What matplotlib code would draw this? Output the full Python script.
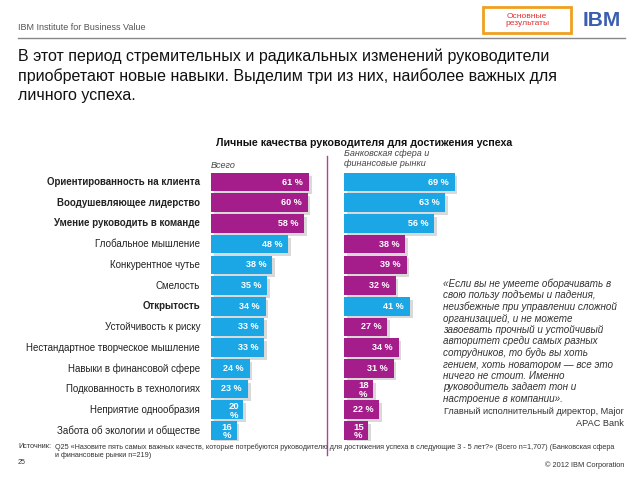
import numpy as np
import matplotlib.pyplot as plt
from matplotlib.patches import Rectangle
from matplotlib.lines import Line2D

plt.rcParams["font.family"] = ["Liberation Sans", "DejaVu Sans"]

# data
qualities = ["Ориентированность на клиента", "Воодушевляющее лидерство",
             "Умение руководить в команде", "Глобальное мышление",
             "Конкурентное чутье", "Смелость", "Открытость",
             "Устойчивость к риску", "Нестандартное творческое мышление",
             "Навыки в финансовой сфере", "Подкованность в технологиях",
             "Неприятие однообразия", "Забота об экологии и обществе"]
bold_rows = [0, 1, 2, 6]
total = [61, 60, 58, 48, 38, 35, 34, 33, 33, 24, 23, 20, 16]
banking = [69, 63, 56, 38, 39, 32, 41, 27, 34, 31, 18, 22, 15]

MAG = "#a51c8b"
BLUE = "#1ba7e6"
total_colors = [MAG] * 3 + [BLUE] * 10
bank_colors = [BLUE] * 3 + [MAG] * 3 + [BLUE] + [MAG] * 6

quote = ["«Если вы не умеете оборачивать в",
         "свою пользу подъемы и падения,",
         "неизбежные при управлении сложной",
         "организацией, и не можете",
         "завоевать прочный и устойчивый",
         "авторитет среди самых разных",
         "сотрудников, то будь вы хоть",
         "гением, хоть новатором — все это",
         "ничего не стоит. Именно",
         "руководитель задает тон и",
         "настроение в компании»."]

W, H = 640, 480


def fx(x):
    return x / W


def fy(y):
    return 1 - y / H


fig = plt.figure(figsize=(6.4, 4.8), dpi=100)

# header
fig.text(fx(18), fy(27), "IBM Institute for Business Value", fontsize=6.5,
         color="#555555", va="center")
fig.add_artist(Line2D([fx(18), fx(625)], [fy(38), fy(38)], color="#888888", lw=1))
fig.add_artist(Rectangle((fx(483), fy(33)), fx(88), 26 / H, fill=False,
                         edgecolor="#f0a020", lw=2))
fig.text(fx(527), fy(20), "Основные\nрезультаты", fontsize=6, color="#e03030",
         ha="center", va="center", linespacing=1.1)
fig.text(fx(602), fy(21), "IBM", fontsize=15, fontweight="bold", color="#3a5fb0",
         ha="center", va="center")
for yy in np.arange(13.5, 31, 2.2):
    fig.add_artist(Line2D([fx(578), fx(627)], [fy(yy), fy(yy)], color="white", lw=0.8))

fig.text(fx(18), fy(48), "В этот период стремительных и радикальных изменений руководители\n"
         "приобретают новые навыки. Выделим три из них, наиболее важных для\n"
         "личного успеха.", fontsize=11.5, color="#111111", va="top", linespacing=1.33)

fig.text(fx(364), fy(143), "Личные качества руководителя для достижения успеха",
         fontsize=7.7, fontweight="bold", ha="center", va="center", color="#111111")

# panels
top, bottom = 171.7, 440.7
n = len(qualities)
ypos = np.arange(n)


def panel(x0, values, colors):
    ax = fig.add_axes([fx(x0), fy(bottom), 70 * 1.61 / W, (bottom - top) / H])
    ax.barh(ypos + 0.14, values, height=0.9, left=1.6, color="#bbbbbb",
            alpha=0.55, zorder=1)
    ax.barh(ypos, values, height=0.9, color=colors, zorder=2)
    for i, v in enumerate(values):
        if v <= 20:
            ax.text(v - 6, i + 0.05, f"{v}\n%", color="white", fontsize=6.8,
                    fontweight="bold", ha="center", va="center",
                    linespacing=0.95, zorder=3)
        else:
            ax.text(v - 3.7, i, f"{v} %", color="white", fontsize=6.5,
                    fontweight="bold", ha="right", va="center", zorder=3)
    ax.set_xlim(0, 70)
    ax.set_ylim(n - 0.5, -0.5)
    ax.axis("off")
    return ax


axl = panel(211, total, total_colors)
axr = panel(344, banking, bank_colors)

for i, q in enumerate(qualities):
    axl.text(-6.8, i, q, ha="right", va="center", fontsize=7,
             fontweight="bold" if i in bold_rows else "normal",
             color="#222222", clip_on=False)

fig.text(fx(211), fy(165), "Всего", fontsize=6.5, style="italic",
         color="#444444", va="center")
fig.text(fx(344), fy(149), "Банковская сфера и\nфинансовые рынки", fontsize=6.5,
         style="italic", color="#444444", va="top", linespacing=1.1)

fig.add_artist(Line2D([fx(327), fx(327)], [fy(156), fy(455)], color="#b5408f", lw=1))

# quote
for k, line in enumerate(quote):
    fig.text(fx(443), fy(284 + k * 11.5), line, fontsize=7.1, style="italic",
             color="#333333", va="center")
fig.text(fx(624), fy(411), "Главный исполнительный директор, Major", fontsize=6.6,
         color="#333333", ha="right", va="center")
fig.text(fx(624), fy(423), "APAC Bank", fontsize=6.6, color="#333333",
         ha="right", va="center")

# footer
fig.text(fx(18), fy(447), "Источник:", fontsize=5.2, color="#333333", va="center")
fig.text(fx(55), fy(451), "Q25 «Назовите пять самых важных качеств, которые потребуются "
         "руководителю для достижения успеха в следующие 3 - 5 лет?» (Всего n=1,707) "
         "(Банковская сфера\nи финансовые рынки n=219)", fontsize=5.2,
         color="#333333", va="center", linespacing=1.15)
fig.text(fx(18), fy(463), "25", fontsize=5, color="#333333", va="center")
fig.text(fx(624), fy(465), "© 2012 IBM Corporation", fontsize=5.3, color="#333333",
         ha="right", va="center")

fig.savefig("out.png", dpi=100)
